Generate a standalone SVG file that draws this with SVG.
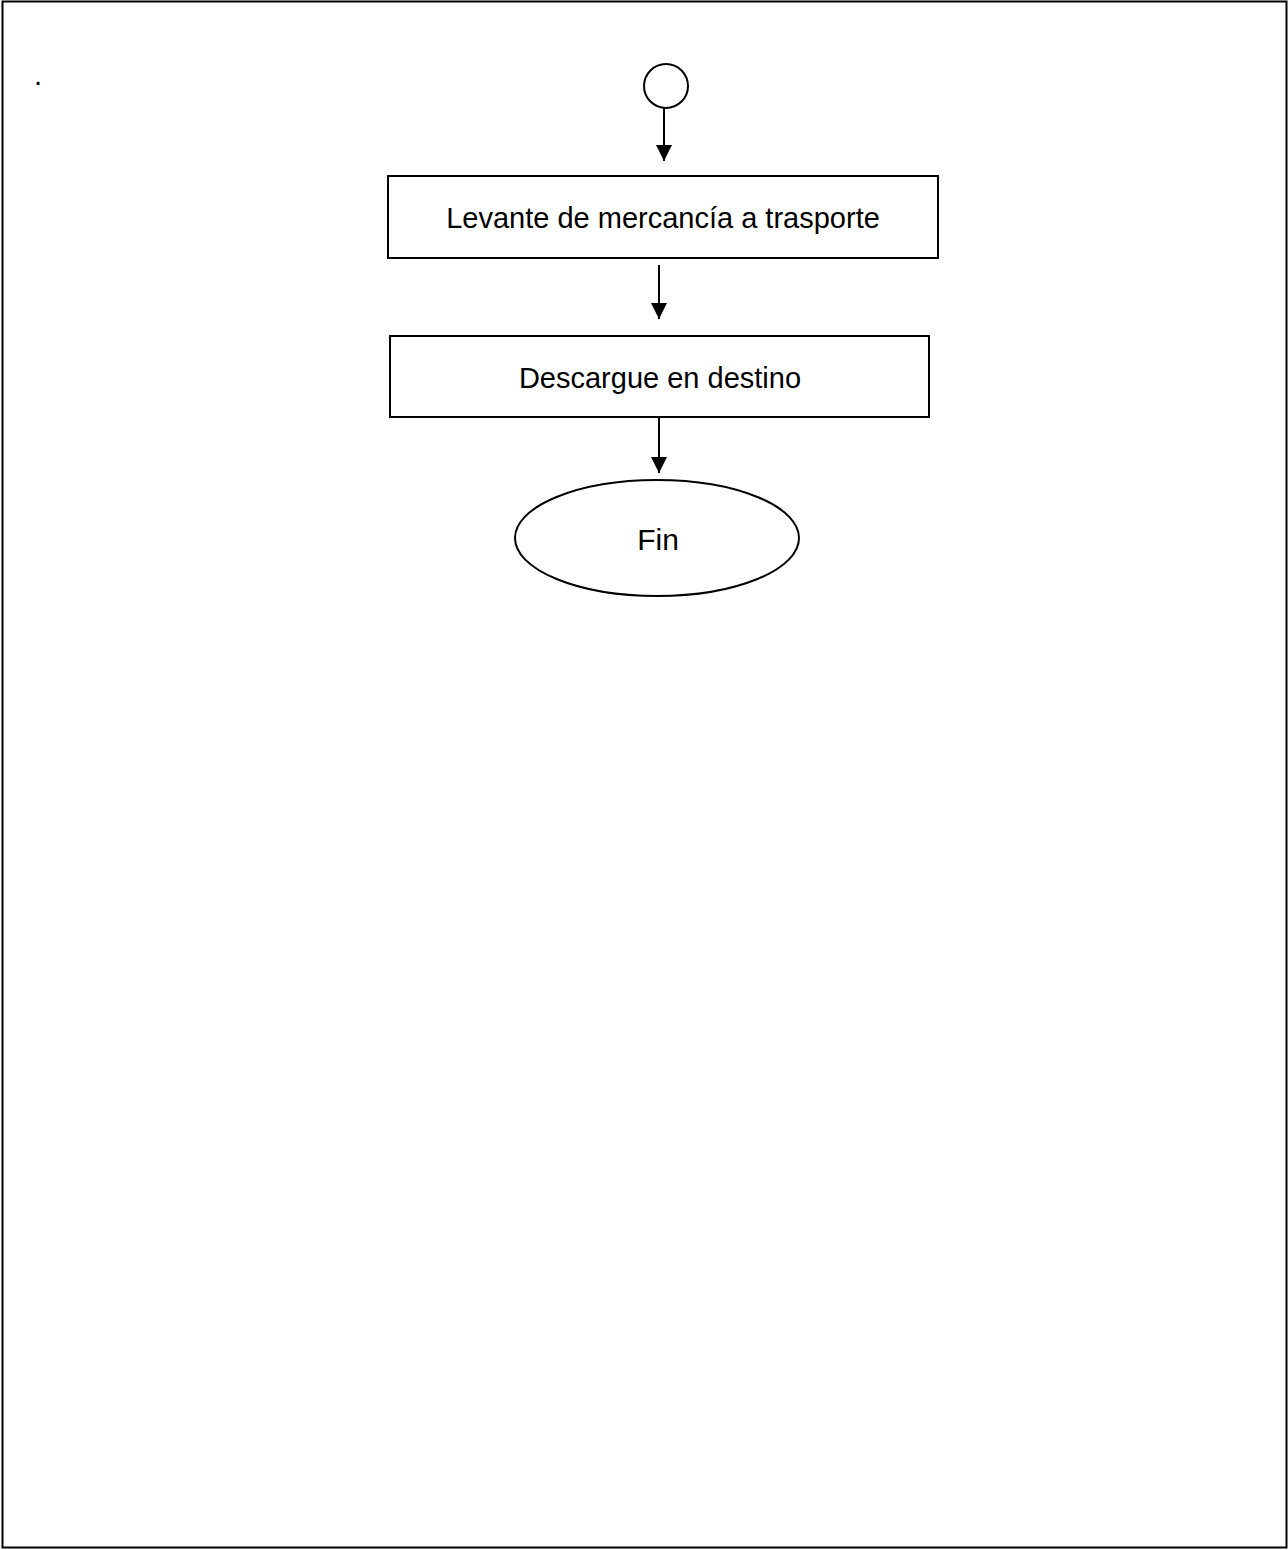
<svg xmlns="http://www.w3.org/2000/svg" width="1288" height="1550" viewBox="0 0 1288 1550">
<defs>
<style>
.shape{fill:#fff;stroke:#000;stroke-width:2}
.lbl{font-family:"Liberation Sans",Arial,sans-serif;font-size:29px;fill:#000;text-anchor:middle}
.conn{stroke:#000;stroke-width:2;fill:none}
</style>
<marker id="ah" viewBox="0 0 16 16" refX="16" refY="8" markerWidth="16" markerHeight="16" markerUnits="userSpaceOnUse" orient="auto">
<path d="M0,0 L16,8 L0,16 Z" fill="#000"/>
</marker>
</defs>
<rect x="0" y="0" width="1288" height="1550" fill="#fff"/>
<rect x="2.5" y="1.5" width="1284" height="1546" fill="none" stroke="#000" stroke-width="2"/>
<text x="34" y="85" style="font-family:'Liberation Sans',Arial,sans-serif;font-size:29px">.</text>
<g id="start"><circle class="shape" cx="666" cy="86" r="22"/></g>
<g id="n1"><rect class="shape" x="388" y="176" width="550" height="82"/><text class="lbl" x="663" y="228">Levante de mercancía a trasporte</text></g>
<g id="n2"><rect class="shape" x="390" y="336" width="539" height="81"/><text class="lbl" x="660" y="388">Descargue en destino</text></g>
<g id="end"><ellipse class="shape" cx="657" cy="538" rx="142" ry="58"/><text class="lbl" x="658" y="550" style="font-size:30px">Fin</text></g>
<g id="connectors">
<line class="conn" x1="664" y1="108" x2="664" y2="161" marker-end="url(#ah)"/>
<line class="conn" x1="659" y1="265" x2="659" y2="319" marker-end="url(#ah)"/>
<line class="conn" x1="659" y1="417" x2="659" y2="473" marker-end="url(#ah)"/>
</g>
</svg>
